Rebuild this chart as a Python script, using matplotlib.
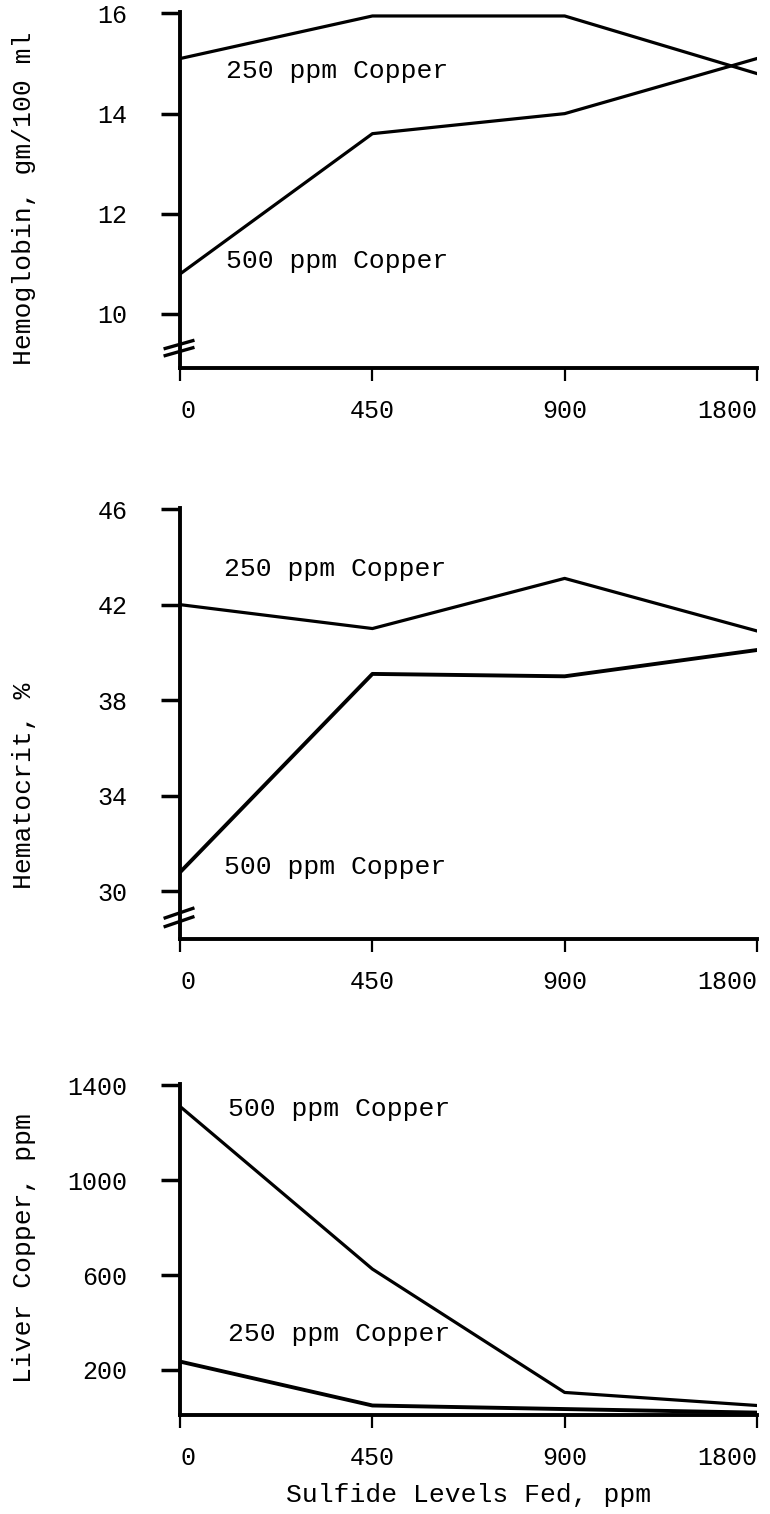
import matplotlib
matplotlib.use("Agg")
import matplotlib.pyplot as plt

plt.rcParams['font.family'] = ['Liberation Mono', 'DejaVu Sans Mono']

# sulfide levels fed, ppm (plotted as equally spaced categories)
sulfide = ["0", "450", "900", "1800"]

# hemoglobin, gm/100 ml
hgb_250 = [15.1, 15.95, 15.95, 14.8]
hgb_500 = [10.8, 13.6, 14.0, 15.1]

# hematocrit, %
hct_250 = [42.0, 41.0, 43.1, 40.9]
hct_500 = [30.8, 39.1, 39.0, 40.1]

# liver copper, ppm
liver_500 = [1310, 625, 105, 50]
liver_250 = [235, 50, 35, 20]

x = list(range(len(sulfide)))

fig = plt.figure(figsize=(7.7, 15.14), dpi=100)

L, W = 0.234, 0.749
ax1 = fig.add_axes([L, 0.7569, W, 0.2352])
ax2 = fig.add_axes([L, 0.3798, W, 0.2847])
ax3 = fig.add_axes([L, 0.0654, W, 0.2186])

FS = 19


def style(ax, ylim, yticks, ylabel, ylab_y):
    ax.set_xlim(0, 3)
    ax.set_ylim(*ylim)
    ax.set_yticks(yticks)
    ax.set_xticks(x)
    ax.set_xticklabels(sulfide)
    labs = ax.get_xticklabels()
    labs[0].set_ha('left')
    labs[-1].set_ha('right')
    for s in ['top', 'right']:
        ax.spines[s].set_visible(False)
    for s in ['left', 'bottom']:
        ax.spines[s].set_linewidth(2.8)
    ax.tick_params(axis='y', direction='out', length=14, width=2.5, pad=24, labelsize=18)
    ax.tick_params(axis='x', direction='out', length=9, width=1.6, pad=13, labelsize=18)
    ax.set_ylabel(ylabel, fontsize=FS)
    ax.yaxis.set_label_coords(-0.25, ylab_y)


def brk(ax, yf):
    for d in (0.0, 0.02):
        ax.plot([-0.026, 0.022], [yf + d - 0.011, yf + d + 0.011], transform=ax.transAxes,
                color='black', lw=2.4, clip_on=False)


# hemoglobin
ax1.plot(x, hgb_250, color='black', lw=2.3)
ax1.plot(x, hgb_500, color='black', lw=2.3)
style(ax1, (8.92, 16.03), [10, 12, 14, 16], 'Hemoglobin, gm/100 ml', 0.478)
ax1.text(0.24, 14.85, '250 ppm Copper', fontsize=FS, va='center')
ax1.text(0.24, 11.05, '500 ppm Copper', fontsize=FS, va='center')
brk(ax1, 0.046)

# hematocrit
ax2.plot(x, hct_250, color='black', lw=2.3)
ax2.plot(x, hct_500, color='black', lw=2.8)
style(ax2, (28.0, 46.05), [30, 34, 38, 42, 46], 'Hematocrit, %', 0.355)
ax2.text(0.23, 43.5, '250 ppm Copper', fontsize=FS, va='center')
ax2.text(0.23, 31.0, '500 ppm Copper', fontsize=FS, va='center')
brk(ax2, 0.04)

# liver copper
ax3.plot(x, liver_500, color='black', lw=2.3)
ax3.plot(x, liver_250, color='black', lw=2.8)
style(ax3, (10, 1405), [200, 600, 1000, 1400], 'Liver Copper, ppm', 0.505)
ax3.text(0.25, 1300, '500 ppm Copper', fontsize=FS, va='center')
ax3.text(0.25, 352, '250 ppm Copper', fontsize=FS, va='center')
ax3.set_xlabel('Sulfide Levels Fed, ppm', fontsize=FS, labelpad=10)

fig.savefig('out.png', dpi=100)
